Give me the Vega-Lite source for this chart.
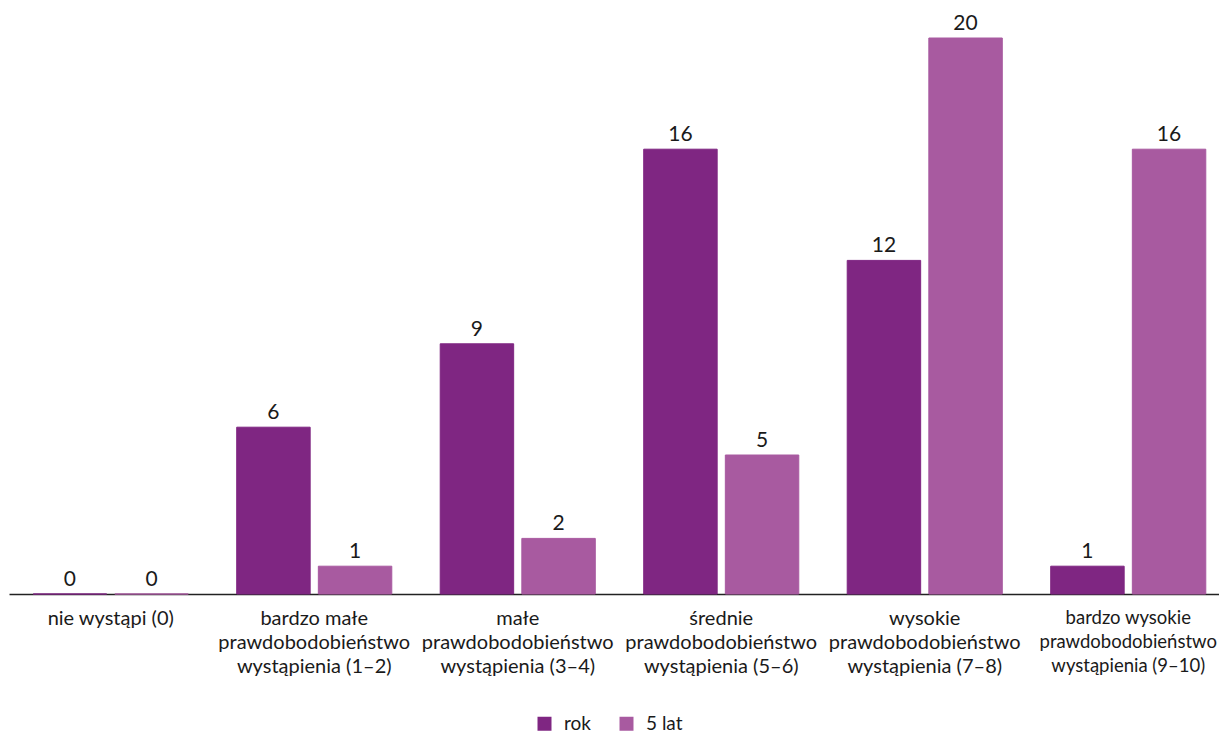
{
  "$schema": "https://vega.github.io/schema/vega-lite/v6.json",
  "width": 1221,
  "height": 556,
  "autosize": "none",
  "padding": {"left": 9, "top": 38, "right": 0, "bottom": 139},
  "background": "white",
  "config": {"view": {"stroke": null}, "font": "Lato"},
  "data": {
    "values": [
      {"kat": "nie wystąpi (0)", "seria": "rok", "wartosc": 0},
      {"kat": "nie wystąpi (0)", "seria": "5 lat", "wartosc": 0},
      {"kat": "bardzo małe|prawdobodobieństwo|wystąpienia (1–2)", "seria": "rok", "wartosc": 6},
      {"kat": "bardzo małe|prawdobodobieństwo|wystąpienia (1–2)", "seria": "5 lat", "wartosc": 1},
      {"kat": "małe|prawdobodobieństwo|wystąpienia (3–4)", "seria": "rok", "wartosc": 9},
      {"kat": "małe|prawdobodobieństwo|wystąpienia (3–4)", "seria": "5 lat", "wartosc": 2},
      {"kat": "średnie|prawdobodobieństwo|wystąpienia (5–6)", "seria": "rok", "wartosc": 16},
      {"kat": "średnie|prawdobodobieństwo|wystąpienia (5–6)", "seria": "5 lat", "wartosc": 5},
      {"kat": "wysokie|prawdobodobieństwo|wystąpienia (7–8)", "seria": "rok", "wartosc": 12},
      {"kat": "wysokie|prawdobodobieństwo|wystąpienia (7–8)", "seria": "5 lat", "wartosc": 20},
      {"kat": "bardzo wysokie|prawdobodobieństwo|wystąpienia (9–10)", "seria": "rok", "wartosc": 1},
      {"kat": "bardzo wysokie|prawdobodobieństwo|wystąpienia (9–10)", "seria": "5 lat", "wartosc": 16}
    ]
  },
  "encoding": {
    "x": {
      "field": "kat", "type": "nominal", "sort": null,
      "scale": {"paddingInner": 0.238, "paddingOuter": 0.119},
      "axis": {
        "title": null, "labelAngle": 0, "ticks": false, "grid": false,
        "domainColor": "#222222", "domainWidth": 1.5,
        "labelExpr": "split(datum.value, '|')",
        "labelFontSize": {"condition": {"test": "indexof(datum.value, 'bardzo wysokie') == 0", "value": 18.5}, "value": 20},
        "labelColor": "#1a1a1a", "labelPadding": 14,
        "labelLineHeight": 24, "labelBaseline": "top", "labelLimit": 0
      }
    },
    "xOffset": {
      "field": "seria", "type": "nominal", "sort": ["rok", "5 lat"],
      "scale": {"paddingInner": 0.1, "paddingOuter": 0}
    },
    "y": {
      "field": "wartosc", "type": "quantitative",
      "scale": {"domain": [0, 20], "nice": false},
      "axis": null
    }
  },
  "layer": [
    {
      "mark": {"type": "bar", "strokeWidth": 1},
      "encoding": {
        "color": {
          "field": "seria", "type": "nominal", "sort": ["rok", "5 lat"],
          "scale": {"domain": ["rok", "5 lat"], "range": ["#7F2682", "#A85AA0"]},
          "legend": {
            "title": null, "orient": "none", "direction": "horizontal",
            "legendX": 526, "legendY": 676,
            "symbolType": "square", "symbolSize": 196, "symbolStrokeWidth": 0,
            "labelFontSize": 19, "labelColor": "#1a1a1a", "columnPadding": 26, "labelOffset": 10
          }
        },
        "stroke": {
          "field": "seria", "type": "nominal",
          "scale": {"domain": ["rok", "5 lat"], "range": ["#7F2682", "#A85AA0"]},
          "legend": null
        }
      }
    },
    {
      "mark": {"type": "text", "baseline": "bottom", "dy": -4, "fontSize": 21, "color": "#1a1a1a"},
      "encoding": {"text": {"field": "wartosc", "type": "quantitative"}}
    }
  ]
}
